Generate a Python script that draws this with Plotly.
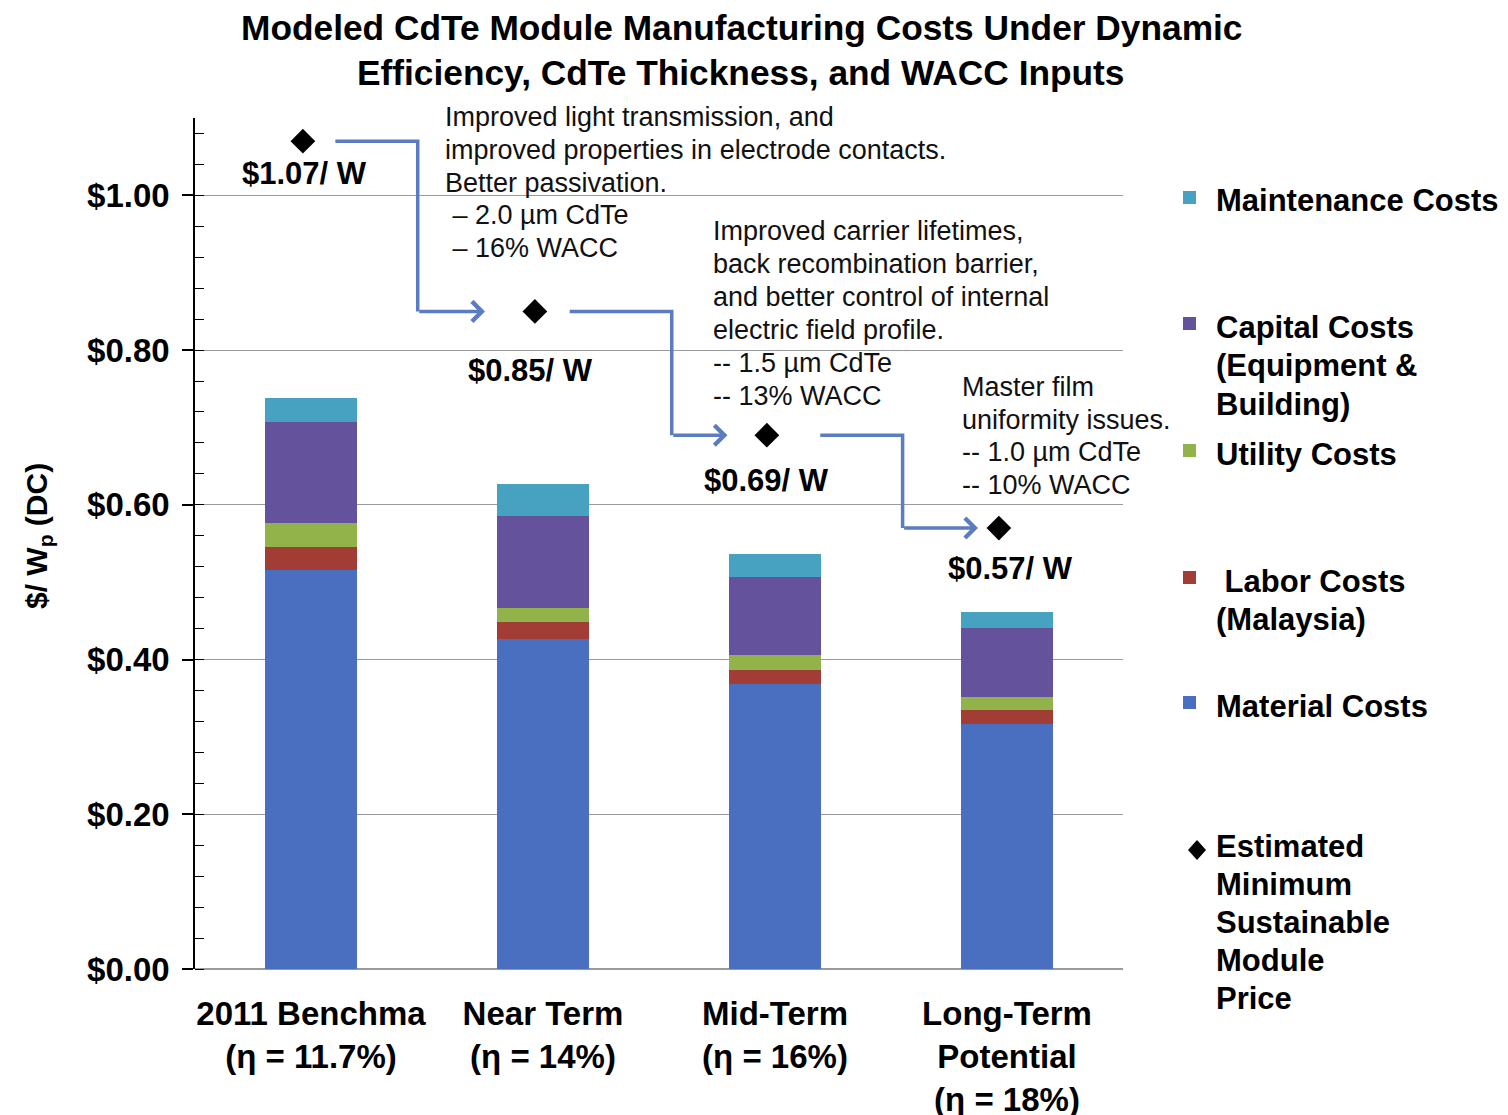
import plotly.graph_objects as go

# ---- data -------------------------------------------------------------
categories = [
    "2011 Benchma<br>(η = 11.7%)",
    "Near Term<br>(η = 14%)",
    "Mid-Term<br>(η = 16%)",
    "Long-Term<br>Potential<br>(η = 18%)",
]
material = [0.516, 0.427, 0.368, 0.317]
labor = [0.030, 0.021, 0.018, 0.018]
utility = [0.031, 0.019, 0.020, 0.017]
capital = [0.130, 0.119, 0.101, 0.089]
maintenance = [0.031, 0.041, 0.030, 0.021]
min_price = [1.07, 0.85, 0.69, 0.57]

notes = [
    ["Improved light transmission, and", "improved properties in electrode contacts.",
     "Better passivation.", "&nbsp;– 2.0 µm CdTe", "&nbsp;– 16% WACC"],
    ["Improved carrier lifetimes,", "back recombination barrier,", "and better control of internal",
     "electric field profile.", "-- 1.5 µm CdTe", "-- 13% WACC"],
    ["Master film", "uniformity issues.", "-- 1.0 µm CdTe", "-- 10% WACC"],
]

legend_names = [
    ["Maintenance Costs"],
    ["Capital Costs", "(Equipment &", "Building)"],
    ["Utility Costs"],
    ["&nbsp;Labor Costs", "(Malaysia)"],
    ["Material Costs"],
]
price_legend = ["Estimated", "Minimum", "Sustainable", "Module", "Price"]

title_lines = ["Modeled CdTe Module Manufacturing Costs Under Dynamic",
               "Efficiency, CdTe Thickness, and WACC Inputs"]

# ---- styling ----------------------------------------------------------
C_MAT = "#4a6fc0"
C_LAB = "#a23d36"
C_UTI = "#92b349"
C_CAP = "#64539c"
C_MNT = "#47a2c2"
C_ARROW = "#5b7cc0"
FONT = "Liberation Sans, Arial, sans-serif"

W, H = 1508, 1115
PL, PR, PT, PB = 195, 1123, 118, 969


def px(x):
    return (x - PL) / (PR - PL)


def py(y):
    return (PB - y) / (PB - PT)


def text_lines(lines, x, y_first, step, size, bold=False, color="black", anchor="left"):
    """One annotation per text line, stepping down in pixels."""
    out = []
    for k, line in enumerate(lines):
        font = dict(family=FONT, size=size, color=color)
        if bold:
            font["weight"] = "bold"
        out.append(dict(x=px(x), y=py(y_first + k * step), xref="paper", yref="paper",
                        text=line, showarrow=False, xanchor=anchor, yanchor="middle",
                        align=anchor, font=font))
    return out


xpos = list(range(len(categories)))

fig = go.Figure()
for vals, name, col in [
    (material, "Material Costs", C_MAT),
    (labor, "Labor Costs", C_LAB),
    (utility, "Utility Costs", C_UTI),
    (capital, "Capital Costs", C_CAP),
    (maintenance, "Maintenance Costs", C_MNT),
]:
    fig.add_trace(go.Bar(x=xpos, y=vals, name=name, marker=dict(color=col, line=dict(width=0)),
                         showlegend=False))

# minimum sustainable price markers
DX = -0.035
fig.add_trace(go.Scatter(
    x=[i + DX for i in xpos], y=min_price, mode="markers",
    marker=dict(symbol="diamond", size=19, color="black"),
    showlegend=False, name="Estimated Minimum Sustainable Module Price"))

annotations = []
shapes = []

# two-line title
annotations += text_lines(title_lines, 741, 28, 44, 35.3, bold=True, anchor="center")

# value labels under each diamond (pixel offsets)
lab_dx = [2, -4, 0, 12]
lab_dy = [32, 59, 45, 40]
for i, v in enumerate(min_price):
    annotations.append(dict(
        x=i + DX, y=v, xref="x", yref="y", text=f"${v:.2f}/ W", showarrow=False,
        xshift=lab_dx[i], yshift=-lab_dy[i],
        font=dict(family=FONT, size=31, color="black", weight="bold")))

# elbow connectors between successive price points
conn = [  # (start offset, elbow offset, end offset from next diamond)
    (0.14, 0.495, -0.215),
    (0.15, 0.59, -0.17),
    (0.23, 0.585, -0.09),
]
for i, (s, e, t) in enumerate(conn):
    x0 = i + DX + s
    xe = i + DX + e
    x1 = i + 1 + DX + t
    y0 = min_price[i]
    y1 = min_price[i + 1]
    shapes.append(dict(type="path", xref="x", yref="y",
                       path=f"M {x0},{y0} L {xe},{y0} L {xe},{y1}",
                       line=dict(color=C_ARROW, width=3.5)))
    annotations.append(dict(x=x1, y=y1, ax=xe, ay=y1, xref="x", yref="y", axref="x", ayref="y",
                            text="", showarrow=True, arrowhead=4, arrowsize=1.1, arrowwidth=3.5,
                            arrowcolor=C_ARROW))

# explanatory notes
note_pos = [(443, 117, 32.75), (711, 231, 33.0), (960, 387, 32.7)]
for (nx, ny, step), lines in zip(note_pos, notes):
    annotations += text_lines(lines, nx, ny, step, 27, color="#111")

# custom legend
leg_colors = [C_MNT, C_CAP, C_UTI, C_LAB, C_MAT]
leg_y = [201, 327, 454, 581, 706]
for lines, col, ly in zip(legend_names, leg_colors, leg_y):
    shapes.append(dict(type="rect", xref="paper", yref="paper",
                       x0=px(1183), x1=px(1196), y0=py(ly + 3), y1=py(ly - 10),
                       fillcolor=col, line=dict(width=0)))
    annotations += text_lines(lines, 1214, ly, 38.5, 31, bold=True)
# diamond symbol for the price legend entry
dcx, dcy = 1197, 850
shapes.append(dict(type="path", xref="paper", yref="paper",
                   path=(f"M {px(dcx - 9)},{py(dcy)} L {px(dcx)},{py(dcy - 10)} "
                         f"L {px(dcx + 9)},{py(dcy)} L {px(dcx)},{py(dcy + 10)} Z"),
                   fillcolor="black", line=dict(width=0)))
annotations += text_lines(price_legend, 1214, 846, 38.2, 31, bold=True)

# y-axis title
annotations.append(dict(x=px(38), y=py(536), xref="paper", yref="paper",
                        text="$/ W<sub>p</sub> (DC)", textangle=-90, showarrow=False,
                        xanchor="center", yanchor="middle",
                        font=dict(family=FONT, size=30, color="black", weight="bold")))

fig.update_layout(
    width=W, height=H,
    margin=dict(l=PL, r=W - PR, t=PT, b=H - PB, pad=0, autoexpand=False),
    paper_bgcolor="white", plot_bgcolor="white",
    barmode="stack", bargap=0.6,
    font=dict(family=FONT, color="black"),
    annotations=annotations,
    shapes=shapes,
)

fig.update_xaxes(
    range=[-0.5, 3.5], tickmode="array", tickvals=xpos, ticktext=categories,
    showgrid=False, zeroline=False, showline=False, ticks="",
    automargin=False, ticklabelstandoff=22,
    tickfont=dict(family=FONT, size=33, color="black", weight="bold"),
)
fig.update_yaxes(
    range=[0, 1.1], dtick=0.2, tickformat="$.2f",
    showgrid=True, gridcolor="#9a9a9a", gridwidth=1,
    zeroline=True, zerolinecolor="#9a9a9a", zerolinewidth=1.5,
    showline=True, linecolor="black", linewidth=1.5,
    ticks="outside", ticklen=11, tickcolor="black", tickwidth=1.5,
    automargin=False, ticklabelstandoff=6,
    minor=dict(dtick=0.04, ticks="inside", ticklen=9, tickcolor="black", tickwidth=1.2, showgrid=False),
    tickfont=dict(family=FONT, size=33, color="black", weight="bold"),
)

fig.write_html("out.html")
